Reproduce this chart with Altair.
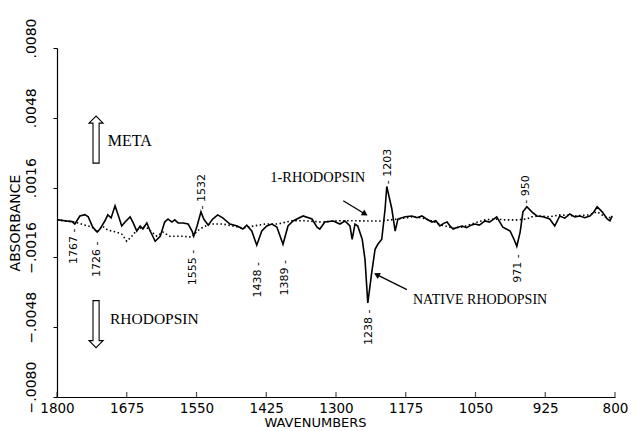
import altair as alt
import pandas as pd

# ---- data ----
native_wn = [1800, 1786, 1773, 1768, 1759, 1750, 1744, 1736, 1728, 1723, 1714, 1709, 1703, 1696,
             1691, 1684, 1678, 1669, 1664, 1657, 1651, 1646, 1639, 1633, 1624, 1615, 1607, 1601,
             1594, 1589, 1583, 1574, 1565, 1558, 1555, 1549, 1542, 1537, 1529, 1521, 1512, 1503,
             1490, 1477, 1467, 1460, 1451, 1442, 1433, 1424, 1415, 1406, 1395, 1386, 1377, 1359,
             1343, 1334, 1329, 1320, 1305, 1293, 1284, 1275, 1271, 1266, 1261, 1253, 1248, 1243,
             1236, 1230, 1225, 1218, 1212, 1209, 1200, 1194, 1189, 1176, 1164, 1155, 1146, 1138,
             1128, 1121, 1114, 1107, 1101, 1095, 1090, 1082, 1074, 1066, 1058, 1051, 1043, 1033,
             1025, 1018, 1012, 1001, 988, 981, 976, 970, 965, 958, 949, 940, 929, 917, 908, 899,
             890, 881, 872, 863, 854, 845, 838, 832, 823, 814, 809, 805]
native_abs = [0.00013, 0.00008, 0.00004, -0.00007, 0.00030, 0.00036, 0.00026, -0.00021, -0.00044,
              -0.00030, 0.00008, 0.00035, 0.00021, 0.00077, 0.00039, -0.00016, 0.00002, 0.00026,
              0.00002, -0.00039, -0.00016, -0.00030, -0.00002, -0.00039, -0.00086, -0.00063,
              0.00002, 0.00016, 0.00002, 0.00012, -0.00002, -0.00002, -0.00007, -0.00039, -0.00063,
              -0.00016, 0.00049, 0.00016, -0.00012, 0.00016, 0.00035, 0.00021, -0.00007, -0.00016,
              -0.00030, -0.00012, -0.00039, -0.00104, -0.00039, -0.00016, -0.00007, -0.00021,
              -0.00100, -0.00016, 0.00007, 0.00030, 0.00016, -0.00021, -0.00030, 0.00002, 0.00007,
              -0.00007, 0.00007, -0.00016, -0.00077, -0.00007, -0.00016, -0.00077, -0.00170,
              -0.00369, -0.00230, -0.00123, -0.00100, -0.00077, 0.00063, 0.00165, 0.00063, -0.00039,
              0.00016, 0.00026, 0.00030, 0.00022, 0.00030, 0.00016, 0.00002, 0.00008, -0.00016,
              -0.00004, 0.00002, -0.00018, -0.00030, -0.00022, -0.00016, -0.00024, -0.00012,
              -0.00007, -0.00012, 0.00007, 0.00002, 0.00014, 0.00026, -0.00021, -0.00039, -0.00077,
              -0.00109, -0.00044, 0.00049, 0.00072, 0.00049, 0.00030, 0.00026, 0.00016, -0.00016,
              0.00030, 0.00020, 0.00039, 0.00026, 0.00030, 0.00022, 0.00030, 0.00048, 0.00072,
              0.00049, 0.00016, 0.00008, 0.00030]

irho_wn = [1800, 1786, 1768, 1750, 1737, 1728, 1719, 1709, 1693, 1684, 1675, 1666, 1655, 1642,
           1630, 1621, 1610, 1598, 1585, 1574, 1558, 1549, 1538, 1526, 1513, 1503, 1485, 1467,
           1445, 1427, 1404, 1379, 1356, 1325, 1296, 1266, 1243, 1218, 1189, 1164, 1146, 1128,
           1110, 1090, 1074, 1051, 1033, 1015, 997, 976, 958, 949, 935, 917, 899, 872, 845, 832,
           818, 805]
irho_abs = [0.00012, 0.00007, 0.00002, -0.00012, -0.00021, -0.00044, -0.00016, -0.00035, -0.00044,
            -0.00053, -0.00086, -0.00063, -0.00030, -0.00016, -0.00044, -0.00063, -0.00044,
            -0.00063, -0.00063, -0.00063, -0.00067, -0.00039, -0.00021, -0.00007, -0.00007,
            -0.00007, -0.00016, -0.00026, -0.00015, -0.00007, -0.00007, 0.00008, 0.00008, 0.00002,
            0.00008, 0.00008, 0.00007, 0.00007, 0.00016, 0.00026, 0.00021, 0.00007, -0.00012,
            -0.00026, -0.00021, -0.00002, 0.00012, 0.00016, 0.00012, 0.00012, 0.00016, 0.00026,
            0.00030, 0.00026, 0.00035, 0.00030, 0.00035, 0.00049, 0.00026, 0.00021]

x_ticks = [1800, 1675, 1550, 1425, 1300, 1175, 1050, 925, 800]
y_ticks = [-0.0080, -0.0048, -0.0016, 0.0016, 0.0048, 0.0080]

peak_text = ["1767 -", "1726 -", "1555 -", "- 1532", "1438 -", "1389 -", "1238 -", "- 1203",
             "971 -", "- 950"]
peak_wn = [1769, 1728, 1556, 1540, 1440, 1391, 1241, 1207, 974, 960]
peak_abs = [-0.00109, -0.00169, -0.00206, 0.00141, -0.00262, -0.00253, -0.00480, 0.00257,
            -0.00211, 0.00151]

note_text = ["META", "RHODOPSIN", "1-RHODOPSIN", "NATIVE RHODOPSIN"]
note_wn = [1709, 1705, 1418, 1162]
note_abs = [0.00373, -0.00443, 0.00202, -0.00355]
note_size = [16, 15.5, 14.5, 14]

# hollow META / RHODOPSIN direction arrows
big_arrow_wn = [1730, 1730]
big_arrow_abs = [0.0038, -0.00466]
big_arrow_dir = ["up", "down"]

# pointer arrows (start -> end)
ptr_wn = [1287, 1173]
ptr_abs = [0.0010, -0.00308]
ptr_wn2 = [1248, 1227]
ptr_abs2 = [0.00039, -0.00239]
ptr_angle = [31, 207]

# ---- build tables ----
native = pd.DataFrame({"wn": native_wn, "abs": native_abs})
irho = pd.DataFrame({"wn": irho_wn, "abs": irho_abs})
peaks = pd.DataFrame({"wn": peak_wn, "abs": peak_abs, "t": peak_text})
notes = pd.DataFrame({"wn": note_wn, "abs": note_abs, "t": note_text, "s": note_size})
ticks = pd.DataFrame({"wn": x_ticks, "abs": [y_ticks[0]] * len(x_ticks)})
ptrs = pd.DataFrame({"wn": ptr_wn, "abs": ptr_abs, "wn2": ptr_wn2, "abs2": ptr_abs2,
                     "ang": ptr_angle})
bigs = pd.DataFrame({"wn": big_arrow_wn, "abs": big_arrow_abs, "d": big_arrow_dir})

xs = alt.Scale(domain=[1800, 800], nice=False, zero=False)
ys = alt.Scale(domain=[-0.008, 0.008], nice=False, zero=False)

X = alt.X("wn:Q", scale=xs, axis=alt.Axis(
    title="WAVENUMBERS", values=x_ticks, format="d", grid=False, ticks=False,
    labelFlush=False, labelOverlap=False,
    domainColor="black", domainWidth=1.2, labelFont="DejaVu Sans", labelFontSize=13.5,
    labelColor="black", labelPadding=4, titleFont="DejaVu Sans", titleFontSize=13,
    titleFontWeight="normal", titleColor="black", titleX=258, titleY=19, titleBaseline="top"))
Y = alt.Y("abs:Q", scale=ys, axis=alt.Axis(
    title="ABSORBANCE", values=y_ticks, grid=False, tickSize=4, tickColor="black",
    labelExpr="replace(format(datum.value, '.4f'), '0.', '.')",
    labelAngle=270, labelAlign="center", labelBaseline="bottom", labelOffset=-10,
    labelFlush=False, labelOverlap=False,
    labelPadding=15, labelFont="DejaVu Sans", labelFontSize=14, labelColor="black",
    domainColor="black", domainWidth=1.2, titleFont="DejaVu Sans", titleFontSize=14,
    titleFontWeight="normal", titleColor="black", titlePadding=2))

base_native = alt.Chart(native).mark_line(color="black", strokeWidth=1.6).encode(x=X, y=Y)
base_irho = alt.Chart(irho).mark_line(color="black", strokeWidth=1.6,
                                      strokeDash=[1.5, 2.5]).encode(x="wn:Q", y="abs:Q")

xt = alt.Chart(ticks).mark_tick(orient="vertical", size=5, thickness=1.2, color="black",
                                yOffset=-2.5).encode(x="wn:Q", y="abs:Q")

peak_layer = alt.Chart(peaks).mark_text(angle=270, fontSize=11, font="DejaVu Sans",
                                        color="black", align="center",
                                        baseline="middle").encode(x="wn:Q", y="abs:Q", text="t:N")

note_layer = alt.Chart(notes).mark_text(font="Liberation Serif", color="black", align="left",
                                        baseline="middle").encode(
    x="wn:Q", y="abs:Q", text="t:N", size=alt.Size("s:Q", scale=None, legend=None))

up_path = "M -0.13 1 L 0.13 1 L 0.13 -0.7 L 0.3 -0.7 L 0 -1 L -0.3 -0.7 L -0.13 -0.7 Z"
down_path = "M -0.13 -1 L 0.13 -1 L 0.13 0.7 L 0.3 0.7 L 0 1 L -0.3 0.7 L -0.13 0.7 Z"
big_up = alt.Chart(bigs).transform_filter("datum.d == 'up'").mark_point(
    shape=up_path, size=2209, filled=True, fill="white", stroke="black", strokeWidth=1.1,
    opacity=1).encode(x="wn:Q", y="abs:Q")
big_down = alt.Chart(bigs).transform_filter("datum.d == 'down'").mark_point(
    shape=down_path, size=2209, filled=True, fill="white", stroke="black", strokeWidth=1.1,
    opacity=1).encode(x="wn:Q", y="abs:Q")

ptr_line = alt.Chart(ptrs).mark_rule(color="black", strokeWidth=1.3).encode(
    x="wn:Q", y="abs:Q", x2="wn2:Q", y2="abs2:Q")
ptr_head = alt.Chart(ptrs).mark_point(shape="triangle-right", size=45, filled=True,
                                      color="black", opacity=1).encode(
    x="wn2:Q", y="abs2:Q", angle=alt.Angle("ang:Q", scale=None))

chart = alt.layer(base_native, base_irho, xt, peak_layer, note_layer, big_up, big_down,
                  ptr_line, ptr_head).properties(
    width=558, height=349,
    autosize=alt.AutoSizeParams(type="none"),
    padding={"left": 49, "top": 40, "right": 19, "bottom": 34},
    background="white",
).configure_view(stroke=None)

chart.save("out.html", embed_options={"renderer": "svg", "actions": False})
